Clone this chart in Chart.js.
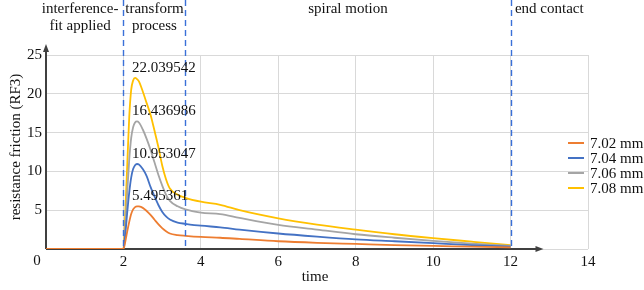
<!DOCTYPE html>
<html><head><meta charset="utf-8">
<script src="https://cdn.jsdelivr.net/npm/chart.js@4"></script>
<style>html,body{margin:0;padding:0;background:#fff}#wrap{width:644px;height:290px}</style>
</head><body><div id="wrap"><canvas id="c" width="644" height="290"></canvas></div>
<script>
const times = [0, 2, 2.05, 2.1, 2.15, 2.2, 2.25, 2.3, 2.35, 2.4, 2.5, 2.6, 2.7, 2.8, 2.9, 3.0, 3.1, 3.2, 3.4, 3.6, 4, 4.5, 5, 6, 7, 8, 9, 10, 11, 12];
const rf702 = [0,0,1.0,2.3,3.5,4.5,5.1,5.4,5.495,5.48,5.3,4.9,4.4,3.8,3.2,2.7,2.3,2.0,1.8,1.7,1.55,1.45,1.3,1.0,0.8,0.65,0.5,0.4,0.3,0.2];
const rf704 = [0,0,2,4.8,7.3,9.2,10.3,10.8,10.953,10.9,10.3,9.4,8.0,6.8,5.7,4.8,4.2,3.8,3.4,3.25,3.0,2.8,2.5,2.0,1.6,1.25,1.0,0.75,0.5,0.3];
const rf706 = [0,0,3,7.5,11.5,14.3,15.7,16.3,16.437,16.3,15.4,14.2,12.8,11.2,9.6,8.2,7.0,6.2,5.5,5.1,4.7,4.5,4.0,3.1,2.5,1.9,1.45,1.05,0.7,0.4];
const rf708 = [0,0,5,11,17,20.5,21.7,22.04,21.9,21.6,20.3,18.8,17.3,15.3,13.2,10.8,9.0,7.8,7.0,6.6,6.1,5.7,5.0,3.95,3.15,2.5,1.9,1.4,0.95,0.5];
const seriesLabels = ['7.02 mm','7.04 mm','7.06 mm','7.08 mm'];
const peakLabels = ['5.495361','10.953047','16.436986','22.039542'];
const peakValues = [5.495361, 10.953047, 16.436986, 22.039542];
const phaseBounds = [2, 3.6, 12];
const phaseTexts = [['interference-','fit applied'], ['transform','process'], ['spiral motion'], ['end contact']];
const phaseCenters = [0.88, 2.8, 7.8, 13];
const xTicks = [0, 2, 4, 6, 8, 10, 12, 14];
const yTicks = [0, 5, 10, 15, 20, 25];

const colors = ['#ED7D31','#4472C4','#A5A5A5','#FFC000'];
const FONT = '"Liberation Serif", "Times New Roman", serif';
const allSeries = [rf702, rf704, rf706, rf708];

const deco = {
  id: 'deco',
  beforeDatasetsDraw(chart) {
    const {ctx, scales:{x, y}} = chart;
    ctx.save();
    ctx.strokeStyle = '#404040'; ctx.fillStyle = '#404040'; ctx.lineWidth = 2;
    const x0 = x.getPixelForValue(0), y0 = y.getPixelForValue(0);
    const yTip = y.top - 11;
    ctx.beginPath(); ctx.moveTo(x0, y0); ctx.lineTo(x0, yTip + 4); ctx.stroke();
    ctx.beginPath(); ctx.moveTo(x0, yTip); ctx.lineTo(x0 - 3, yTip + 8); ctx.lineTo(x0 + 3, yTip + 8); ctx.closePath(); ctx.fill();
    const xTip = x.getPixelForValue(12.85);
    ctx.beginPath(); ctx.moveTo(x0, y0); ctx.lineTo(xTip - 4, y0); ctx.stroke();
    ctx.beginPath(); ctx.moveTo(xTip, y0); ctx.lineTo(xTip - 8, y0 - 3); ctx.lineTo(xTip - 8, y0 + 3); ctx.closePath(); ctx.fill();
    ctx.restore();
  },
  afterDatasetsDraw(chart) {
    const {ctx, scales:{x, y}} = chart;
    ctx.save();
    ctx.strokeStyle = '#3A70D8'; ctx.lineWidth = 1.4; ctx.setLineDash([6, 4]);
    phaseBounds.forEach(b => {
      const px = Math.round(x.getPixelForValue(b)) + 0.5;
      ctx.beginPath(); ctx.moveTo(px, 0); ctx.lineTo(px, y.getPixelForValue(0)); ctx.stroke();
    });
    ctx.setLineDash([]);
    ctx.fillStyle = '#111';
    ctx.font = '15px ' + FONT;
    ctx.textAlign = 'center'; ctx.textBaseline = 'alphabetic';
    phaseTexts.forEach((lines, i) => {
      const cx = x.getPixelForValue(phaseCenters[i]);
      lines.forEach((t, j) => ctx.fillText(t, cx, 13 + j * 17));
    });
    ctx.textAlign = 'left'; ctx.textBaseline = 'middle';
    peakLabels.forEach((t, i) => {
      ctx.fillText(t, x.getPixelForValue(2.22), y.getPixelForValue(peakValues[i]) - 10);
    });
    ctx.textAlign = 'center'; ctx.textBaseline = 'middle';
    ctx.fillText('0', x.getPixelForValue(0) - 9, y.bottom + 12);
    ctx.textBaseline = 'alphabetic';
    ctx.fillText('time', (x.left + x.right) / 2 - 2, 281);
    ctx.save();
    ctx.translate(16, 147); ctx.rotate(-Math.PI / 2);
    ctx.textAlign = 'center'; ctx.textBaseline = 'middle';
    ctx.fillText('resistance friction (RF3)', 0, 0);
    ctx.restore();
    ctx.textAlign = 'left'; ctx.textBaseline = 'middle';
    chart.data.datasets.forEach((ds, i) => {
      const ly = 143 + i * 15;
      ctx.strokeStyle = ds.borderColor; ctx.lineWidth = 2;
      ctx.beginPath(); ctx.moveTo(568, ly); ctx.lineTo(584, ly); ctx.stroke();
      ctx.fillStyle = '#111';
      ctx.fillText(ds.label, 590, ly + 1);
    });
    ctx.restore();
  }
};

new Chart(document.getElementById('c'), {
  type: 'line',
  data: {
    datasets: allSeries.map((arr, i) => ({
      label: seriesLabels[i],
      data: times.map((t, k) => ({x: t, y: arr[k]})),
      borderColor: colors[i],
      backgroundColor: colors[i],
      borderWidth: 1.8,
      pointRadius: 0,
      cubicInterpolationMode: 'monotone',
      fill: false
    }))
  },
  options: {
    responsive: false,
    animation: false,
    devicePixelRatio: 1,
    layout: {padding: {left: 0, right: 56, top: 55, bottom: 0}},
    plugins: {legend: {display: false}, tooltip: {enabled: false}},
    scales: {
      x: {
        type: 'linear', min: 0, max: 14,
        afterBuildTicks: s => { s.ticks = xTicks.map(v => ({value: v})); },
        afterFit: s => { s.height = 41; },
        border: {display: false},
        grid: {color: '#d9d9d9', lineWidth: 1, drawTicks: false},
        ticks: {padding: 4, color: '#111', font: {family: FONT, size: 15}, maxRotation: 0,
          callback: v => v === 0 ? '' : String(v)}
      },
      y: {
        min: 0, max: 25,
        afterBuildTicks: s => { s.ticks = yTicks.map(v => ({value: v})); },
        afterFit: s => { s.width = 46; },
        border: {display: false},
        grid: {color: '#d9d9d9', lineWidth: 1, drawTicks: false},
        ticks: {padding: 4, color: '#111', font: {family: FONT, size: 15},
          callback: v => v === 0 ? '' : String(v)}
      }
    }
  },
  plugins: [deco]
});
</script></body></html>
